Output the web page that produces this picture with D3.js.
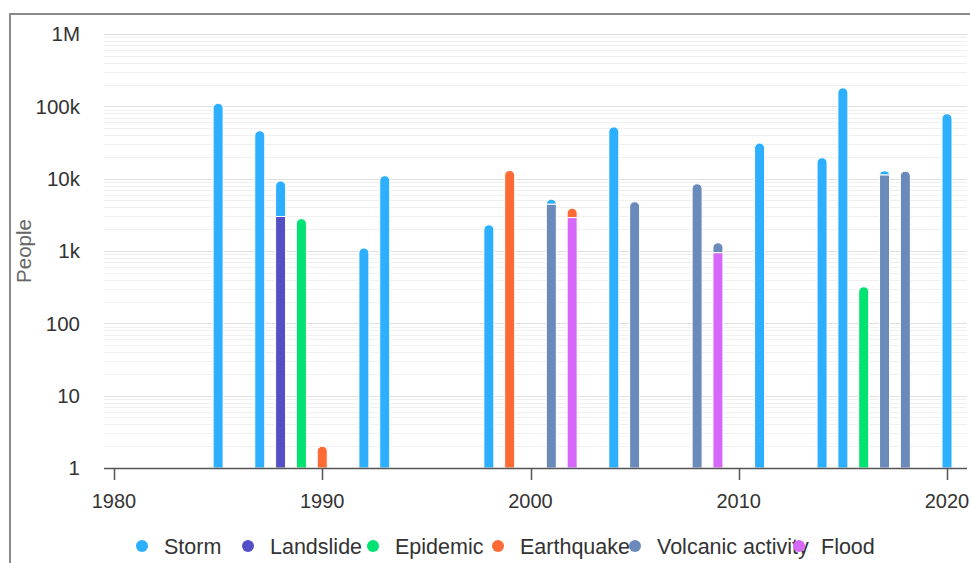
<!DOCTYPE html>
<html>
<head>
<meta charset="utf-8">
<script src="https://cdn.jsdelivr.net/npm/d3@7"></script>
<style>
  html, body { margin: 0; padding: 0; background: #fff; }
  svg { display: block; font-family: "Liberation Sans", Arial, sans-serif; }
</style>
</head>
<body>
<svg id="chart" width="970" height="563"></svg>
<script>
// ---------- data ----------
const categories = ["Storm", "Landslide", "Epidemic", "Earthquake", "Volcanic activity", "Flood"];
const colors = ["#2caffe", "#544fc5", "#00e272", "#fe6a35", "#6b8abc", "#d568fb"];

const storm = [[1985, 110000], [1987, 46000], [1988, 6300], [1992, 1100], [1993, 11000], [1998, 2300],
               [2001, 750], [2004, 52000], [2011, 31000], [2014, 19500], [2015, 180000], [2017, 1500], [2020, 79000]];
const landslide = [[1988, 3000]];
const epidemic = [[1989, 2800], [2016, 320]];
const earthquake = [[1990, 2], [1999, 13000], [2002, 1000]];
const volcanic = [[2001, 4450], [2005, 4800], [2008, 8500], [2009, 350], [2017, 11300], [2018, 12700]];
const flood = [[2002, 2900], [2009, 950]];
const seriesData = [storm, landslide, epidemic, earthquake, volcanic, flood];

const xTicks = [1980, 1990, 2000, 2010, 2020];
const yTicks = [1, 10, 100, 1000, 10000, 100000, 1000000];
const yTickLabels = ["1", "10", "100", "1k", "10k", "100k", "1M"];
const yTitle = "People";

// ---------- layout ----------
const svg = d3.select("#chart");
const plot = { left: 104, right: 967, top: 34, bottom: 468 };
const x = d3.scaleLinear().domain([1979.52, 2020.96]).range([plot.left, plot.right]);
const y = d3.scaleLog().domain([1, 1000000]).range([plot.bottom, plot.top]);
const barW = 10;

// frame
svg.append("rect").attr("x", 10).attr("y", 14).attr("width", 1000).attr("height", 600)
  .attr("fill", "none").attr("stroke", "#8a8a8a").attr("stroke-width", 2);

// grid lines
const minor = [];
for (let k = 0; k < 6; k++) for (let m = 2; m <= 9; m++) minor.push(m * Math.pow(10, k));
svg.append("g").selectAll("line").data(minor).join("line")
  .attr("x1", plot.left).attr("x2", plot.right)
  .attr("y1", d => Math.round(y(d)) + 0.5).attr("y2", d => Math.round(y(d)) + 0.5)
  .attr("stroke", "#f0f0f0").attr("stroke-width", 1);
svg.append("g").selectAll("line").data(yTicks.slice(1)).join("line")
  .attr("x1", plot.left).attr("x2", plot.right)
  .attr("y1", d => Math.round(y(d)) + 0.5).attr("y2", d => Math.round(y(d)) + 0.5)
  .attr("stroke", "#e0e0e0").attr("stroke-width", 1);

// y labels
svg.append("g").selectAll("text").data(yTicks).join("text")
  .attr("x", 80).attr("y", d => y(d)).attr("dy", "0.35em")
  .attr("text-anchor", "end").attr("font-size", 20.5).attr("fill", "#333")
  .text((d, i) => yTickLabels[i]);

svg.append("text")
  .attr("transform", `translate(31,${(plot.top + plot.bottom) / 2}) rotate(-90)`)
  .attr("text-anchor", "middle").attr("font-size", 20.5).attr("fill", "#666")
  .text(yTitle);

// ---------- bars (stacked, last series at bottom) ----------
const stackBase = {};
const bars = [];
for (let s = seriesData.length - 1; s >= 0; s--) {
  seriesData[s].forEach(([yr, v]) => {
    const b0 = stackBase[yr] || 0;
    const b1 = b0 + v;
    stackBase[yr] = b1;
    bars.push({ s, yr, v0: b0, v1: b1 });
  });
}
const topVal = {};
bars.forEach(b => { topVal[b.yr] = Math.max(topVal[b.yr] || 0, b.v1); });

function barPath(b) {
  const xl = x(b.yr) - barW / 2, xr = x(b.yr) + barW / 2;
  const yb = b.v0 <= 1 ? y(1) : y(b.v0);
  const yt = y(b.v1);
  const isTop = b.v1 === topVal[b.yr];
  const r = isTop ? Math.min(barW / 2, (yb - yt)) : 0;
  if (r <= 0) return `M${xl},${yb}V${yt}H${xr}V${yb}Z`;
  return `M${xl},${yb}V${yt + r}A${r},${r} 0 0 1 ${xl + r},${yt}` +
         `H${xr - r}A${r},${r} 0 0 1 ${xr},${yt + r}V${yb}Z`;
}

svg.append("g").selectAll("path").data(bars).join("path")
  .attr("d", barPath)
  .attr("fill", d => colors[d.s])
  .attr("stroke", "#fff").attr("stroke-width", 1);

// ---------- x axis ----------
svg.append("line").attr("x1", plot.left).attr("x2", plot.right)
  .attr("y1", plot.bottom + 0.5).attr("y2", plot.bottom + 0.5)
  .attr("stroke", "#555").attr("stroke-width", 1.5);
const xa = svg.append("g");
xa.selectAll("line").data(xTicks).join("line")
  .attr("x1", d => Math.round(x(d)) + 0.5).attr("x2", d => Math.round(x(d)) + 0.5)
  .attr("y1", plot.bottom).attr("y2", plot.bottom + 12)
  .attr("stroke", "#555").attr("stroke-width", 1.5);
xa.selectAll("text").data(xTicks).join("text")
  .attr("x", d => x(d)).attr("y", 508)
  .attr("text-anchor", "middle").attr("font-size", 20).attr("fill", "#333")
  .text(d => d);

// ---------- legend ----------
const legendX = [142, 248, 373, 498, 635, 799];
const lg = svg.append("g").selectAll("g").data(categories).join("g")
  .attr("transform", (d, i) => `translate(${legendX[i]},546)`);
lg.append("text").attr("x", 22).attr("y", 0).attr("dy", "0.35em")
  .attr("font-size", 21.5).attr("fill", "#333").text(d => d);
lg.append("circle").attr("r", 6).attr("fill", (d, i) => colors[i]);
</script>
</body>
</html>
